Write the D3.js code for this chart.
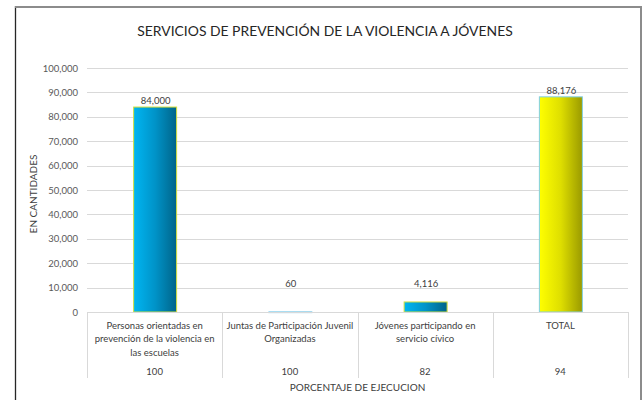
<!DOCTYPE html>
<html>
<head>
<meta charset="utf-8">
<script src="https://cdn.jsdelivr.net/npm/d3@7"></script>
<style>
  html, body { margin: 0; padding: 0; background: #fff; }
  svg { display: block; font-family: Lato, "Open Sans", sans-serif; }
</style>
</head>
<body>
<svg id="chart" width="643" height="400"></svg>
<script>
// Service categories, split into the lines shown under each bar
const categories = [
  "Personas orientadas en prevención de la violencia en las escuelas",
  "Juntas de Participación Juvenil Organizadas",
  "Jóvenes participando en servicio cívico",
  "TOTAL"
];
const categoryLines = [
  ["Personas orientadas en", "prevención de la violencia en", "las escuelas"],
  ["Juntas de Participación Juvenil", "Organizadas"],
  ["Jóvenes participando en", "servicio cívico"],
  ["TOTAL"]
];
// Quantities served
const values = [84000, 60, 4116, 88176];
// Execution percentage per category
const percentages = [100, 100, 82, 94];
const yTicks = [0, 10000, 20000, 30000, 40000, 50000, 60000, 70000, 80000, 90000, 100000];

const svg = d3.select("#chart");
const plot = { left: 87, right: 628, top: 68, bottom: 312 };

// Chart frame: dark left edge, grey top and right edges
svg.append("rect").attr("x", 15.5).attr("y", 7).attr("width", 626).attr("height", 420)
  .attr("fill", "#fff").attr("stroke", "none");
svg.append("line").attr("x1", 15.5).attr("x2", 15.5).attr("y1", 6).attr("y2", 400)
  .attr("stroke", "#262626").attr("stroke-width", 1.3);
svg.append("line").attr("x1", 15).attr("x2", 642).attr("y1", 7).attr("y2", 7)
  .attr("stroke", "#8c8c8c").attr("stroke-width", 2);
svg.append("line").attr("x1", 641).attr("x2", 641).attr("y1", 6).attr("y2", 400)
  .attr("stroke", "#8c8c8c").attr("stroke-width", 2);

// Gradients for the bars
const defs = svg.append("defs");
const blue = defs.append("linearGradient").attr("id", "gBlue").attr("x1", "0").attr("x2", "1").attr("y1", "0").attr("y2", "0");
blue.append("stop").attr("offset", "0%").attr("stop-color", "#00b6f2");
blue.append("stop").attr("offset", "50%").attr("stop-color", "#0093c8");
blue.append("stop").attr("offset", "100%").attr("stop-color", "#006489");
const yellow = defs.append("linearGradient").attr("id", "gYellow").attr("x1", "0").attr("x2", "1").attr("y1", "0").attr("y2", "0");
yellow.append("stop").attr("offset", "0%").attr("stop-color", "#ffff00");
yellow.append("stop").attr("offset", "50%").attr("stop-color", "#dede00");
yellow.append("stop").attr("offset", "100%").attr("stop-color", "#9a9a00");

// Title
svg.append("text").attr("x", 325).attr("y", 36).attr("text-anchor", "middle")
  .attr("font-size", 13.9).attr("fill", "#262626")
  .text("SERVICIOS DE PREVENCIÓN DE LA VIOLENCIA A JÓVENES");

const y = d3.scaleLinear().domain([0, 100000]).range([plot.bottom, plot.top]);
const x = d3.scaleBand().domain(categories).range([plot.left, plot.right]).paddingInner(0).paddingOuter(0);

// Gridlines
svg.append("g").selectAll("line").data(yTicks.filter(d => d > 0)).join("line")
  .attr("x1", plot.left).attr("x2", plot.right)
  .attr("y1", d => Math.round(y(d)) + 0.5).attr("y2", d => Math.round(y(d)) + 0.5)
  .attr("stroke", "#d9d9d9").attr("stroke-width", 1);

// Y axis labels
const yAxis = d3.axisLeft(y).tickValues(yTicks).tickSize(0).tickPadding(9)
  .tickFormat(d3.format(","));
const gy = svg.append("g").attr("transform", `translate(${plot.left},0)`).call(yAxis);
gy.select(".domain").remove();
gy.selectAll("text").attr("font-size", 9.5).attr("fill", "#595959")
  .attr("font-family", "Lato, 'Open Sans', sans-serif");

// Y axis title
svg.append("text").attr("transform", `translate(37,${(plot.top + plot.bottom) / 2 + 4}) rotate(-90)`)
  .attr("text-anchor", "middle").attr("font-size", 10).attr("fill", "#404040")
  .text("EN CANTIDADES");

// Bars
const barW = 43;
svg.append("g").selectAll("rect").data(values).join("rect")
  .attr("x", (d, i) => x(categories[i]) + x.bandwidth() / 2 - barW / 2 + 0.5)
  .attr("y", d => y(d))
  .attr("width", barW)
  .attr("height", d => Math.max(y(0) - y(d), 0.8))
  .attr("fill", (d, i) => i === 3 ? "url(#gYellow)" : "url(#gBlue)")
  .attr("stroke", (d, i) => i === 3 ? "#7fd0e6" : (i === 1 ? "#8fd3ef" : "#d6e03c"))
  .attr("stroke-width", 1);

// Value labels
svg.append("g").selectAll("text").data(values).join("text")
  .attr("x", (d, i) => x(categories[i]) + x.bandwidth() / 2 + 1)
  .attr("y", d => Math.min(y(d) - 3, y(0) - 25))
  .attr("text-anchor", "middle").attr("font-size", 9.5).attr("fill", "#404040")
  .text(d => d3.format(",")(d));

// Category table below the plot
const tableBottom = 378;
const tbl = svg.append("g");
tbl.append("line").attr("x1", plot.left).attr("x2", plot.right)
  .attr("y1", plot.bottom + 0.5).attr("y2", plot.bottom + 0.5)
  .attr("stroke", "#d9d9d9");
const seps = categories.map(c => x(c)).concat([plot.right]);
tbl.selectAll("line.sep").data(seps).join("line").attr("class", "sep")
  .attr("x1", d => Math.round(d) + 0.5).attr("x2", d => Math.round(d) + 0.5)
  .attr("y1", plot.bottom).attr("y2", tableBottom)
  .attr("stroke", "#d9d9d9");

categories.forEach((c, i) => {
  const cx = x(c) + x.bandwidth() / 2;
  const t = tbl.append("text").attr("text-anchor", "middle").attr("font-size", 9.5).attr("fill", "#404040");
  categoryLines[i].forEach((line, k) => {
    t.append("tspan").attr("x", cx).attr("y", 329 + k * 13.3).text(line);
  });
  tbl.append("text").attr("x", cx).attr("y", 375).attr("text-anchor", "middle")
    .attr("font-size", 9.5).attr("fill", "#404040").text(percentages[i]);
});

// X axis title
svg.append("text").attr("x", (plot.left + plot.right) / 2).attr("y", 391)
  .attr("text-anchor", "middle").attr("font-size", 10).attr("fill", "#404040")
  .text("PORCENTAJE DE EJECUCION");
</script>
</body>
</html>
